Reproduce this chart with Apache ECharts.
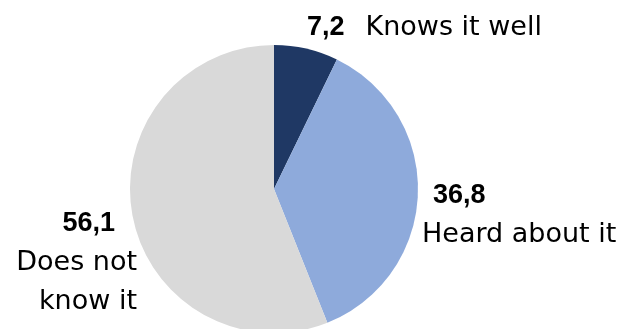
<!DOCTYPE html>
<html>
<head>
<meta charset="utf-8">
<script src="https://cdn.jsdelivr.net/npm/echarts@6/dist/echarts.min.js"></script>
<style>
  html, body { margin: 0; padding: 0; background: #fff; }
  #chart { width: 629px; height: 329px; }
</style>
</head>
<body>
<div id="chart"></div>
<script>
var categories = ['Knows it well', 'Heard about it', 'Does not know it'];
var labelTexts = ['Knows it well', 'Heard about it', 'Does not\nknow it'];
var values = [7.2, 36.8, 56.1];
var colors = ['#1f3864', '#8eaadb', '#d9d9d9'];

function fmt(v) {
    return v.toFixed(1).replace('.', ',');
}

var textFont = 'DejaVu Sans';
var numFont = 'Liberation Sans';

var chart = echarts.init(document.getElementById('chart'));

var option = {
    animation: false,
    series: [
        {
            type: 'pie',
            center: [274, 189],
            radius: 144,
            startAngle: 90,
            clockwise: true,
            silent: true,
            itemStyle: { borderWidth: 0 },
            labelLine: { show: false },
            label: {
                show: true,
                position: 'outside',
                overflow: 'none',
                formatter: function (p) {
                    var i = p.dataIndex;
                    if (i === 0) {
                        return '{v0|' + fmt(values[i]) + '}{t|' + labelTexts[i] + '}';
                    }
                    if (i === 1) {
                        return '{v1|' + fmt(values[i]) + '}\n{t|' + labelTexts[i] + '}';
                    }
                    var lines = labelTexts[i].split('\n');
                    return '{v2|' + fmt(values[i]) + '}\n{t|' + lines.join('}\n{t|') + '}';
                },
                rich: {
                    t: { fontFamily: textFont, fontSize: 27, color: '#000', lineHeight: 39 },
                    v0: { fontFamily: numFont, fontWeight: 'bold', fontSize: 27, color: '#000', lineHeight: 39, padding: [0, 21, 0, 0] },
                    v1: { fontFamily: numFont, fontWeight: 'bold', fontSize: 27, color: '#000', lineHeight: 39, padding: [0, 0, 0, 11] },
                    v2: { fontFamily: numFont, fontWeight: 'bold', fontSize: 27, color: '#000', lineHeight: 39, padding: [0, 22, 0, 0] }
                }
            },
            labelLayout: function (p) {
                var i = p.dataIndex;
                if (i === 0) {
                    return { x: 307, y: 8, align: 'left', verticalAlign: 'top' };
                }
                if (i === 1) {
                    return { x: 422, y: 176, align: 'left', verticalAlign: 'top' };
                }
                return { x: 137, y: 204, align: 'right', verticalAlign: 'top' };
            },
            data: categories.map(function (c, i) {
                return { name: c, value: values[i], itemStyle: { color: colors[i] } };
            })
        }
    ]
};

chart.setOption(option);
</script>
</body>
</html>
